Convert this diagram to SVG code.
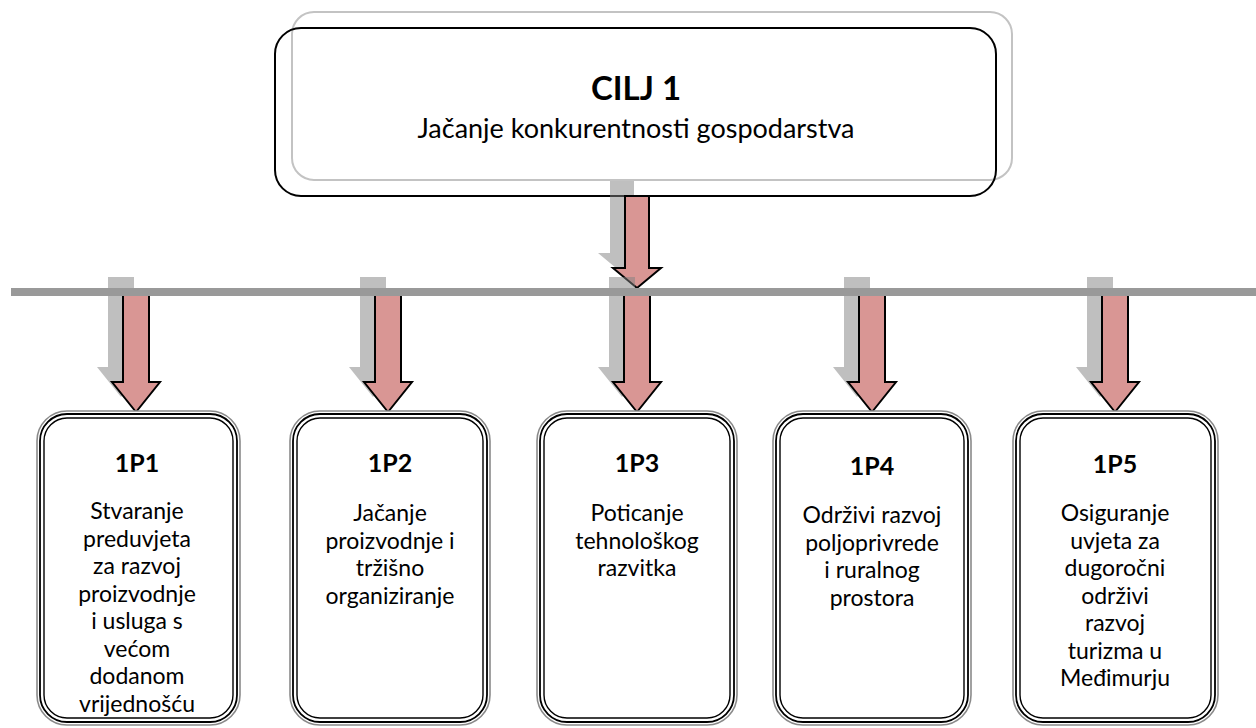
<svg xmlns="http://www.w3.org/2000/svg" xmlns:xlink="http://www.w3.org/1999/xlink" width="1256" height="728" viewBox="0 0 1256 728">
<style>
text{font-family:Lato,"Liberation Sans",sans-serif;fill:#000;text-anchor:middle}
.t{font-size:23px}
.h{font-size:25px;font-weight:bold}
.g1{fill:#fff;stroke:#8a8a8a;stroke-width:1.6}
.g2{fill:none;stroke:#000;stroke-width:1.8}
.g3{fill:none;stroke:#000;stroke-width:1.4}
.arr{fill:#d99694;stroke:#000;stroke-width:2;stroke-linejoin:miter}
.sh{fill:#808080;opacity:0.5}
</style>
<defs>
<path id="ab" d="M-13,0 H13 V90 H24 L0,120 L-24,90 H-13 Z"/>
<path id="at" d="M-12,0 H12 V72 H24 L0,92 L-24,72 H-12 Z"/>
</defs>
<rect width="1256" height="728" fill="#fff"/>
<g id="goal">
<rect x="292" y="12" width="720" height="168" rx="22" fill="none" stroke="#c3c3c3" stroke-width="2"/>
<rect x="275" y="28" width="721" height="168" rx="26" fill="none" stroke="#000" stroke-width="2"/>
<text x="636" y="100" style="font-size:33px;font-weight:bold">CILJ 1</text>
<text x="636" y="138" style="font-size:27px">Jačanje konkurentnosti gospodarstva</text>
</g>
<g id="connectors">
<use xlink:href="#at" class="sh" transform="translate(622,181)"/>
<use xlink:href="#at" class="arr" transform="translate(637,196)"/>
<use xlink:href="#ab" class="sh" transform="translate(121,277)"/>
<use xlink:href="#ab" class="sh" transform="translate(373,277)"/>
<use xlink:href="#ab" class="sh" transform="translate(622,277)"/>
<use xlink:href="#ab" class="sh" transform="translate(857,277)"/>
<use xlink:href="#ab" class="sh" transform="translate(1100,277)"/>
<use xlink:href="#ab" class="arr" transform="translate(136,292)"/>
<use xlink:href="#ab" class="arr" transform="translate(388,292)"/>
<use xlink:href="#ab" class="arr" transform="translate(637,292)"/>
<use xlink:href="#ab" class="arr" transform="translate(872,292)"/>
<use xlink:href="#ab" class="arr" transform="translate(1115,292)"/>
<rect x="11" y="288" width="1245" height="8" fill="#999"/>
</g>
<g id="p1">
<rect class="g1" x="37" y="411" width="203" height="314" rx="30"/>
<rect class="g2" x="40" y="414" width="197" height="308" rx="27"/>
<rect class="g3" x="44" y="418" width="189" height="300" rx="23"/>
<text class="h" x="137" y="472">1P1</text>
<text class="t" x="137" y="519">Stvaranje</text>
<text class="t" x="137" y="546.5">preduvjeta</text>
<text class="t" x="137" y="574">za razvoj</text>
<text class="t" x="137" y="601.5">proizvodnje</text>
<text class="t" x="137" y="629">i usluga s</text>
<text class="t" x="137" y="656.5">većom</text>
<text class="t" x="137" y="684">dodanom</text>
<text class="t" x="137" y="711.5">vrijednošću</text>
</g>
<g id="p2">
<rect class="g1" x="290" y="411" width="200" height="314" rx="30"/>
<rect class="g2" x="293" y="414" width="194" height="308" rx="27"/>
<rect class="g3" x="297" y="418" width="186" height="300" rx="23"/>
<text class="h" x="390" y="472">1P2</text>
<text class="t" x="390" y="521">Jačanje</text>
<text class="t" x="390" y="548.5">proizvodnje i</text>
<text class="t" x="390" y="576">tržišno</text>
<text class="t" x="390" y="603.5">organiziranje</text>
</g>
<g id="p3">
<rect class="g1" x="537" y="411" width="200" height="314" rx="30"/>
<rect class="g2" x="540" y="414" width="194" height="308" rx="27"/>
<rect class="g3" x="544" y="418" width="186" height="300" rx="23"/>
<text class="h" x="637" y="472">1P3</text>
<text class="t" x="637" y="521">Poticanje</text>
<text class="t" x="637" y="548.5">tehnološkog</text>
<text class="t" x="637" y="576">razvitka</text>
</g>
<g id="p4">
<rect class="g1" x="773" y="411" width="198" height="314" rx="30"/>
<rect class="g2" x="776" y="414" width="192" height="308" rx="27"/>
<rect class="g3" x="780" y="418" width="184" height="300" rx="23"/>
<text class="h" x="872" y="475">1P4</text>
<text class="t" x="872" y="523">Održivi razvoj</text>
<text class="t" x="872" y="550.5">poljoprivrede</text>
<text class="t" x="872" y="578">i ruralnog</text>
<text class="t" x="872" y="605.5">prostora</text>
</g>
<g id="p5">
<rect class="g1" x="1013" y="411" width="205" height="314" rx="30"/>
<rect class="g2" x="1016" y="414" width="199" height="308" rx="27"/>
<rect class="g3" x="1020" y="418" width="191" height="300" rx="23"/>
<text class="h" x="1115" y="473">1P5</text>
<text class="t" x="1115" y="521">Osiguranje</text>
<text class="t" x="1115" y="548.5">uvjeta za</text>
<text class="t" x="1115" y="576">dugoročni</text>
<text class="t" x="1115" y="603.5">održivi</text>
<text class="t" x="1115" y="631">razvoj</text>
<text class="t" x="1115" y="658.5">turizma u</text>
<text class="t" x="1115" y="686">Međimurju</text>
</g>
</svg>
